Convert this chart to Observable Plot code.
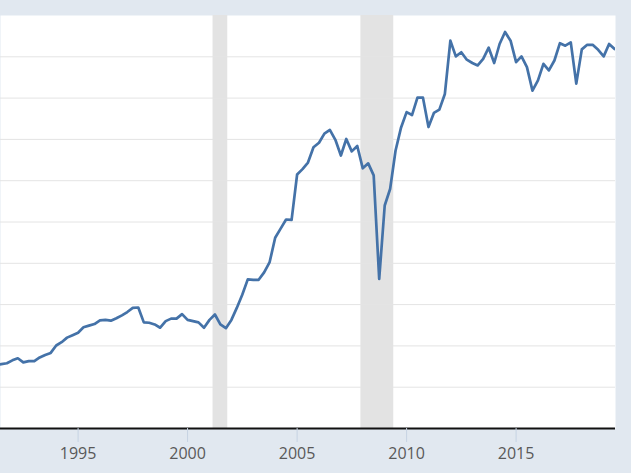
<!DOCTYPE html>
<html><head><meta charset="utf-8">
<script src="https://cdn.jsdelivr.net/npm/d3@7"></script>
<script src="https://cdn.jsdelivr.net/npm/@observablehq/plot@0.6"></script>
<style>html,body{margin:0;padding:0;background:#e1e8f0;overflow:hidden}#chart svg{display:block}</style>
</head><body><div id="chart"></div>
<script>
// Quarterly series, first observation at this date (index units, y-axis labels cropped in reference)
const firstQuarter = "1991-04-01";
const values = [
  15.4, 15.6, 15.8, 16.5, 17.0, 16.0, 16.3, 16.3, 17.2, 17.8,
  18.3, 20.1, 20.9, 22.0, 22.6, 23.2, 24.5, 24.9, 25.3, 26.2,
  26.3, 26.1, 26.7, 27.4, 28.2, 29.2, 29.3, 25.7, 25.6, 25.2,
  24.4, 26.0, 26.6, 26.6, 27.7, 26.3, 26.0, 25.7, 24.4, 26.3,
  27.6, 25.2, 24.3, 26.3, 29.2, 32.4, 36.1, 36.0, 36.0, 37.8,
  40.3, 46.2, 48.4, 50.6, 50.5, 61.5, 62.8, 64.4, 68.1, 69.2,
  71.4, 72.3, 69.9, 66.1, 70.1, 67.1, 68.4, 63.0, 64.2, 61.3,
  36.2, 54.0, 58.0, 67.3, 72.9, 76.6, 75.9, 80.1, 80.1, 73.0,
  76.4, 77.2, 81.0, 93.9, 90.1, 91.1, 89.3, 88.5, 87.9, 89.5,
  92.2, 88.5, 93.1, 96.0, 93.9, 88.7, 90.1, 87.5, 81.8, 84.3,
  88.3, 86.7, 89.1, 93.3, 92.7, 93.5, 83.5, 91.8, 92.9, 92.9,
  91.7, 90.1, 93.1, 91.9
];
const recessionStarts = ["2001-03-01", "2007-12-01"];
const recessionEnds = ["2001-11-01", "2009-06-01"];
const tickYears = [1995, 2000, 2005, 2010, 2015];
const gridValues = [10, 20, 30, 40, 50, 60, 70, 80, 90];
const xStart = "1991-06-17";
const xEnd = "2019-07-17";

const start = new Date(firstQuarter);
const data = values.map((v, i) => ({date: d3.utcMonth.offset(start, 3 * i), value: v}));
const recessions = recessionStarts.map((s, i) => ({start: new Date(s), end: new Date(recessionEnds[i])}));
const tickDates = tickYears.map(y => new Date(Date.UTC(y, 0, 1)));

const chart = Plot.plot({
  width: 631,
  height: 473,
  marginLeft: 0,
  marginRight: 16,
  marginTop: 15,
  marginBottom: 45,
  style: {background: "transparent", fontFamily: "'Open Sans', sans-serif", fontSize: "16px", overflow: "visible"},
  x: {type: "utc", domain: [new Date(xStart), new Date(xEnd)]},
  y: {domain: [0, 100]},
  marks: [
    Plot.frame({fill: "#ffffff", stroke: "none"}),
    Plot.rect(recessions, {x1: "start", x2: "end", fill: "#e3e3e3"}),
    Plot.gridY(gridValues, {stroke: "#e4e4e4", strokeOpacity: 1, strokeWidth: 1}),
    Plot.line(data, {x: "date", y: "value", stroke: "#4472a8", strokeWidth: 2.7, clip: true, strokeLinejoin: "round"}),
    Plot.ruleY([0], {stroke: "#111111", strokeWidth: 2.2}),
    Plot.axisX({ticks: tickDates, tickFormat: d3.utcFormat("%Y"), tickSize: 14, tickPadding: 5, stroke: "#c7d3e3", fill: "#595959", fontSize: 16, label: null}),
    Plot.axisY({ticks: [], label: null})
  ]
});
document.getElementById("chart").append(chart);
</script>
</body></html>
